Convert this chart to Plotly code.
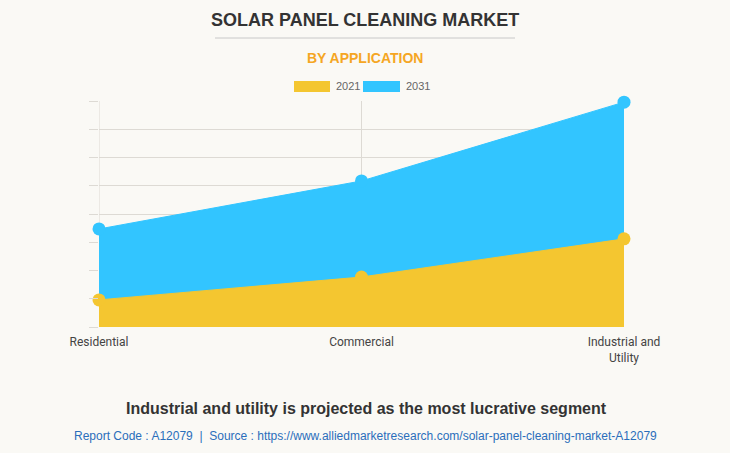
import plotly.graph_objects as go

categories = ["Residential", "Commercial", "Industrial and<br>Utility"]
values_2021 = [0.96, 1.77, 3.12]
values_2031 = [3.47, 5.17, 7.96]
series_names = ["2021", "2031"]
y_ticks = [0, 1, 2, 3, 4, 5, 6, 7, 8]

YEL = "#F4C630"
BLU = "#32C5FF"
BG = "#FAF9F5"
GRID = "#dddad4"

W, H = 730, 453
L, R, T, B = 99, 106, 101, 126

fig = go.Figure()
fig.add_trace(go.Scatter(
    x=[0, 1, 2], y=values_2031, name=series_names[1], mode="lines+markers",
    fill="tozeroy", fillcolor=BLU, line=dict(color=BLU, width=1),
    marker=dict(color=BLU, size=13), showlegend=False, cliponaxis=False))
fig.add_trace(go.Scatter(
    x=[0, 1, 2], y=values_2021, name=series_names[0], mode="lines+markers",
    fill="tozeroy", fillcolor=YEL, line=dict(color=YEL, width=1),
    marker=dict(color=YEL, size=13), showlegend=False, cliponaxis=False))

fig.update_layout(
    width=W, height=H, paper_bgcolor=BG, plot_bgcolor=BG,
    margin=dict(l=L, r=R, t=T, b=B),
    font=dict(family="Roboto, Arial, sans-serif", color="#444"),
    xaxis=dict(range=[0, 2], tickvals=[0, 1, 2], ticktext=categories,
               showgrid=True, gridcolor=GRID, gridwidth=1,
               zeroline=False, showline=False, ticks="", tickfont=dict(size=12, color="#444"),
               ticklabelstandoff=6, fixedrange=True),
    yaxis=dict(range=[0, 8], tickvals=y_ticks, showticklabels=False,
               showgrid=True, gridcolor=GRID, gridwidth=1,
               zeroline=False, ticks="outside", ticklen=9, tickcolor=GRID,
               showline=False, fixedrange=True),
)


def px_x(x):
    return (x - L) / (W - L - R)


def px_y(y):
    return 1 - (y - T) / (H - T - B)


FAM = "Liberation Sans, Arial, sans-serif"
anns = [
    dict(text="<b>SOLAR PANEL CLEANING MARKET</b>", x=365, y=20, size=18, color="#333333"),
    dict(text="<b>BY APPLICATION</b>", x=365, y=58, size=14, color="#F5A623"),
    dict(text="<b>Industrial and utility is projected as the most lucrative segment</b>", x=366, y=408,
         size=16, color="#333333"),
    dict(text="Report Code : A12079  |  Source : https://www.alliedmarketresearch.com/solar-panel-cleaning-market-A12079",
         x=365, y=436, size=12, color="#2A6EBB"),
    dict(text=series_names[0], x=334, y=86, size=11, color="#666666", xanchor="left"),
    dict(text=series_names[1], x=404, y=86, size=11, color="#666666", xanchor="left"),
]
for a in anns:
    fig.add_annotation(text=a["text"], x=px_x(a["x"]), y=px_y(a["y"]), xref="paper", yref="paper",
                       xanchor=a.get("xanchor", "center"), yanchor="middle", showarrow=False,
                       font=dict(size=a["size"], color=a["color"], family=FAM))

# edge vertical gridline at Residential (behind data)
fig.add_shape(type="line", xref="x", yref="paper", x0=0, x1=0, y0=0, y1=1,
              line=dict(color=GRID, width=1), layer="below")
fig.add_shape(type="line", xref="x", yref="paper", x0=2, x1=2, y0=0, y1=1,
              line=dict(color=GRID, width=1), layer="below")
# underline
fig.add_shape(type="line", xref="paper", yref="paper", x0=px_x(215), x1=px_x(515), y0=px_y(38), y1=px_y(38),
              line=dict(color="#c8c8c8", width=1))
# legend boxes
fig.add_shape(type="rect", xref="paper", yref="paper", x0=px_x(294), x1=px_x(330), y0=px_y(81), y1=px_y(92),
              fillcolor=YEL, line=dict(width=0))
fig.add_shape(type="rect", xref="paper", yref="paper", x0=px_x(363), x1=px_x(400), y0=px_y(81), y1=px_y(92),
              fillcolor=BLU, line=dict(width=0))

fig.write_html("out.html")
